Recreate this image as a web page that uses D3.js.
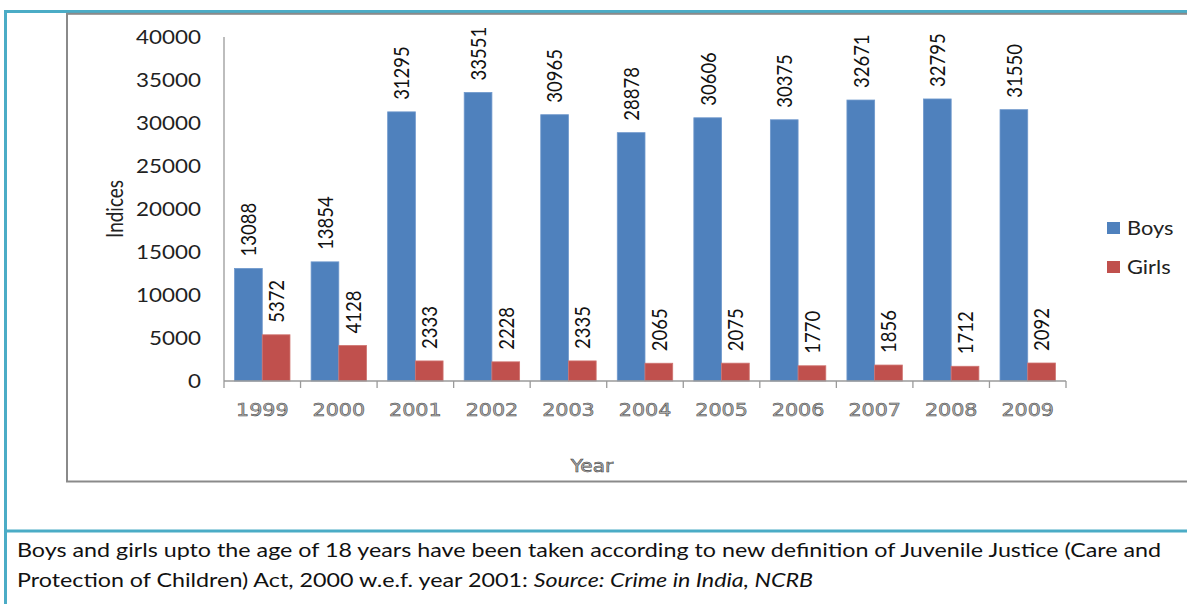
<!DOCTYPE html>
<html>
<head>
<meta charset="utf-8">
<script src="https://cdn.jsdelivr.net/npm/d3@7/dist/d3.min.js"></script>
<style>
  html, body { margin: 0; padding: 0; background: #fff; }
  svg { display: block; }
</style>
</head>
<body>
<svg id="chart" width="1187" height="604"></svg>
<script>
// Juvenile apprehensions by sex, 1999-2009
const years = ["1999", "2000", "2001", "2002", "2003", "2004", "2005", "2006", "2007", "2008", "2009"];
const seriesNames = ["Boys", "Girls"];
const boys  = [13088, 13854, 31295, 33551, 30965, 28878, 30606, 30375, 32671, 32795, 31550];
const girls = [5372, 4128, 2333, 2228, 2335, 2065, 2075, 1770, 1856, 1712, 2092];
const yTicks = [0, 5000, 10000, 15000, 20000, 25000, 30000, 35000, 40000];
const captionLines = [
  [{ t: "Boys and girls upto the age of 18 years have been taken according to new definition of Juvenile Justice (Care and", i: false }],
  [{ t: "Protection of Children) Act, 2000 w.e.f. year 2001: ", i: false }, { t: "Source: Crime in India, NCRB", i: true }]
];

const colors = { Boys: "#4F81BD", Girls: "#C0504D" };
const SX = 1.18; // horizontal glyph stretch

const svg = d3.select("#chart");

// frames
svg.append("rect").attr("x", 5.5).attr("y", 11.5).attr("width", 1190).attr("height", 600)
  .attr("fill", "none").attr("stroke", "#4BACC6").attr("stroke-width", 3);
svg.append("line").attr("x1", 5).attr("x2", 1190).attr("y1", 531).attr("y2", 531)
  .attr("stroke", "#4BACC6").attr("stroke-width", 3);
svg.append("rect").attr("x", 67).attr("y", 13.8).attr("width", 1140).attr("height", 467.7)
  .attr("fill", "none").attr("stroke", "#8a8a8a").attr("stroke-width", 2);

const x = d3.scaleBand().domain(years).range([224, 1066]).paddingInner(0.276).paddingOuter(0.138);
const xs = d3.scaleBand().domain(seriesNames).range([0, x.bandwidth()]);
const y = d3.scaleLinear().domain([0, 40000]).range([381, 37]);

const data = years.map((yr, i) => ({ year: yr, Boys: boys[i], Girls: girls[i] }));

// y axis line
svg.append("line").attr("x1", 224).attr("x2", 224).attr("y1", y(40000)).attr("y2", y(0))
  .attr("stroke", "#9a9a9a").attr("stroke-width", 1.3);

// y tick labels
svg.append("g").selectAll("text").data(yTicks).join("text")
  .attr("transform", d => `translate(201,${y(d)}) scale(${SX},1)`)
  .attr("text-anchor", "end").attr("dy", "0.36em")
  .attr("font-family", "Lato, 'Open Sans', sans-serif").attr("font-size", 19)
  .attr("fill", "#222").text(d => d);

// bars
const groups = svg.append("g").selectAll("g").data(data).join("g")
  .attr("transform", d => `translate(${x(d.year)},0)`);

groups.selectAll("rect").data(d => seriesNames.map(k => ({ key: k, value: d[k] }))).join("rect")
  .attr("x", d => xs(d.key)).attr("width", xs.bandwidth())
  .attr("y", d => y(d.value)).attr("height", d => y(0) - y(d.value))
  .attr("fill", d => colors[d.key])
  .attr("stroke", d => d.key === "Boys" ? "#6f98cc" : "#cf7370").attr("stroke-width", 0.8);

// value labels
groups.selectAll("text").data(d => seriesNames.map(k => ({ key: k, value: d[k] }))).join("text")
  .attr("transform", d => `translate(${xs(d.key) + xs.bandwidth() / 2},${y(d.value) - 12}) scale(${SX},1) rotate(-90)`)
  .attr("text-anchor", "start").attr("dy", "0.36em")
  .attr("font-family", "Lato, 'Open Sans', sans-serif").attr("font-size", 18.5)
  .attr("fill", "#111").text(d => d.value);

// x axis with ticks at the category boundaries
const xAxis = svg.append("g");
xAxis.append("line").attr("x1", 224).attr("x2", 1066).attr("y1", y(0)).attr("y2", y(0))
  .attr("stroke", "#9a9a9a").attr("stroke-width", 1.3);
const edges = years.map(yr => x(yr) + x.bandwidth() / 2 - x.step() / 2)
  .concat([x(years[years.length - 1]) + x.bandwidth() / 2 + x.step() / 2]);
xAxis.selectAll("line.tick").data(edges).join("line").attr("class", "tick")
  .attr("x1", d => d).attr("x2", d => d).attr("y1", y(0)).attr("y2", y(0) + 7)
  .attr("stroke", "#9a9a9a").attr("stroke-width", 1.3);
xAxis.selectAll("text").data(years).join("text")
  .attr("transform", d => `translate(${x(d) + x.bandwidth() / 2},410) scale(${SX},1)`)
  .attr("text-anchor", "middle").attr("dy", "0.36em")
  .attr("font-family", "'DejaVu Sans', Verdana, sans-serif").attr("font-size", 17.5)
  .attr("fill", "#b0b0b0").attr("stroke", "#444").attr("stroke-width", 0.5)
  .text(d => d);

// axis titles
svg.append("text").attr("transform", `translate(592,466) scale(${SX},1)`)
  .attr("text-anchor", "middle").attr("dy", "0.36em")
  .attr("font-family", "'DejaVu Sans', Verdana, sans-serif").attr("font-size", 17)
  .attr("fill", "#b0b0b0").attr("stroke", "#444").attr("stroke-width", 0.55)
  .text("Year");

svg.append("text").attr("transform", `translate(115,209) scale(${SX},1) rotate(-90)`)
  .attr("text-anchor", "middle").attr("dy", "0.36em")
  .attr("font-family", "Lato, 'Open Sans', sans-serif").attr("font-size", 19)
  .attr("fill", "#222").text("Indices");

// legend
const legend = svg.append("g").selectAll("g").data(seriesNames).join("g")
  .attr("transform", (d, i) => `translate(1107,${228 + i * 39})`);
legend.append("rect").attr("x", 0).attr("y", -6).attr("width", 13).attr("height", 12)
  .attr("fill", d => colors[d]);
legend.append("text").attr("transform", `translate(20,0) scale(${SX},1)`)
  .attr("dy", "0.36em").attr("font-family", "Lato, 'Open Sans', sans-serif").attr("font-size", 18.5)
  .attr("fill", "#222").text(d => d);

// caption, fitted to the box width
const cap = svg.append("g");
const capTexts = captionLines.map(parts => {
  const t = cap.append("text").attr("x", 0).attr("y", 0)
    .attr("font-family", "Lato, 'Open Sans', sans-serif").attr("font-size", 20).attr("fill", "#111");
  parts.forEach(p => t.append("tspan").attr("font-style", p.i ? "italic" : "normal").text(p.t));
  return t;
});
const natural = capTexts[0].node().getComputedTextLength();
const capScale = (1162 - 17) / natural;
capTexts.forEach((t, li) => t.attr("transform", `translate(17,${557 + li * 30}) scale(${capScale},1)`));
</script>
</body>
</html>
